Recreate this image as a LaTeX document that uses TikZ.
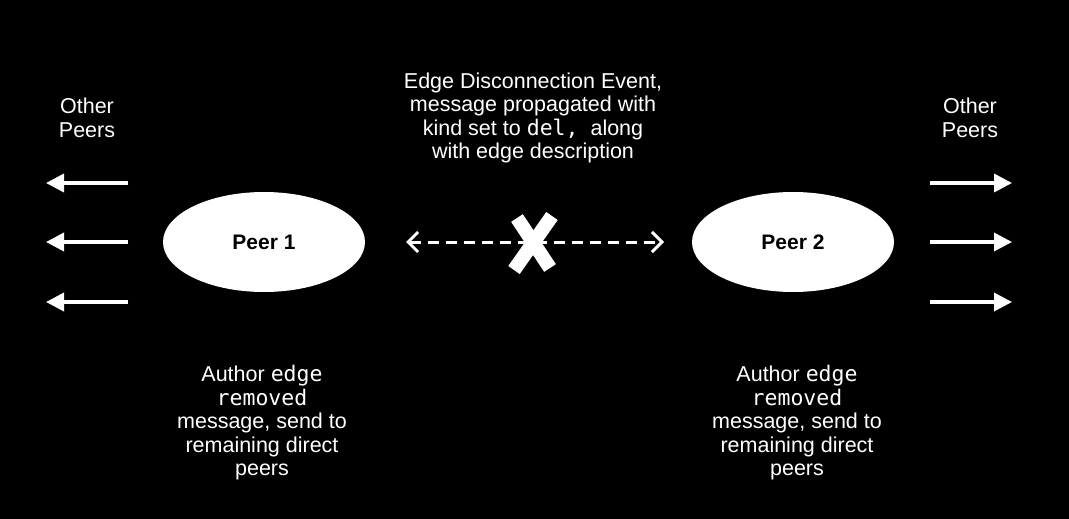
\documentclass[tikz,border=0pt]{standalone}
\usepackage{fontspec}
\setmainfont{Liberation Sans}
\setmonofont{DejaVu Sans Mono}
\usetikzlibrary{arrows.meta,shapes.geometric}
\begin{document}
\begin{tikzpicture}[x=1pt,y=-1pt,
  txt/.style={text=white,align=center,font=\fontsize{21.5}{23.5}\selectfont},
  peer/.style={ellipse,fill=white,minimum width=202pt,minimum height=100pt,inner sep=0pt,font=\bfseries\fontsize{21}{23}\selectfont},
  outarrow/.style={white,line width=3.5pt,-{Triangle[length=18pt,width=18pt]}},
  dasharrow/.style={white,line width=3pt,dash pattern=on 11pt off 7pt,{Straight Barb[length=10pt,width=20pt,line width=3pt]}-{Straight Barb[length=10pt,width=20pt,line width=3pt]}},
  cross/.style={white,line width=14pt,line cap=butt}]
\fill[black] (0,0) rectangle (1069,519);
\useasboundingbox (0,0) rectangle (1069,519);
\node[peer] (p1) at (264,242) {Peer 1};
\node[peer] (p2) at (793,242) {Peer 2};
\node[txt] (op1) at (87,118) {Other\\Peers};
\node[txt] (op2) at (970,118) {Other\\Peers};
\node[txt] (top) at (533,118) {Edge Disconnection Event,\\message propagated with\\kind set to \texttt{del,} \ along\\with edge description};
\node[txt] (b1) at (262,423) {Author \texttt{edge}\\\texttt{removed}\\message, send to\\remaining direct\\peers};
\node[txt] (b2) at (797,423) {Author \texttt{edge}\\\texttt{removed}\\message, send to\\remaining direct\\peers};
\foreach \y/\n in {183/a,242/b,302/c}{
  \coordinate (l\n s) at (128,\y); \coordinate (l\n e) at (46,\y);
  \coordinate (r\n s) at (930,\y); \coordinate (r\n e) at (1012,\y);
  \draw[outarrow] (l\n s) -- (l\n e);
  \draw[outarrow] (r\n s) -- (r\n e);
}
\coordinate (dl) at (406,242);
\coordinate (dr) at (664,242);
\draw[dasharrow] (dl) -- (dr);
\coordinate (x1) at (517,218); \coordinate (x2) at (550,268);
\coordinate (x3) at (552,216); \coordinate (x4) at (514,270);
\draw[cross] (x1) -- (x2);
\draw[cross] (x3) -- (x4);
\end{tikzpicture}
\end{document}
